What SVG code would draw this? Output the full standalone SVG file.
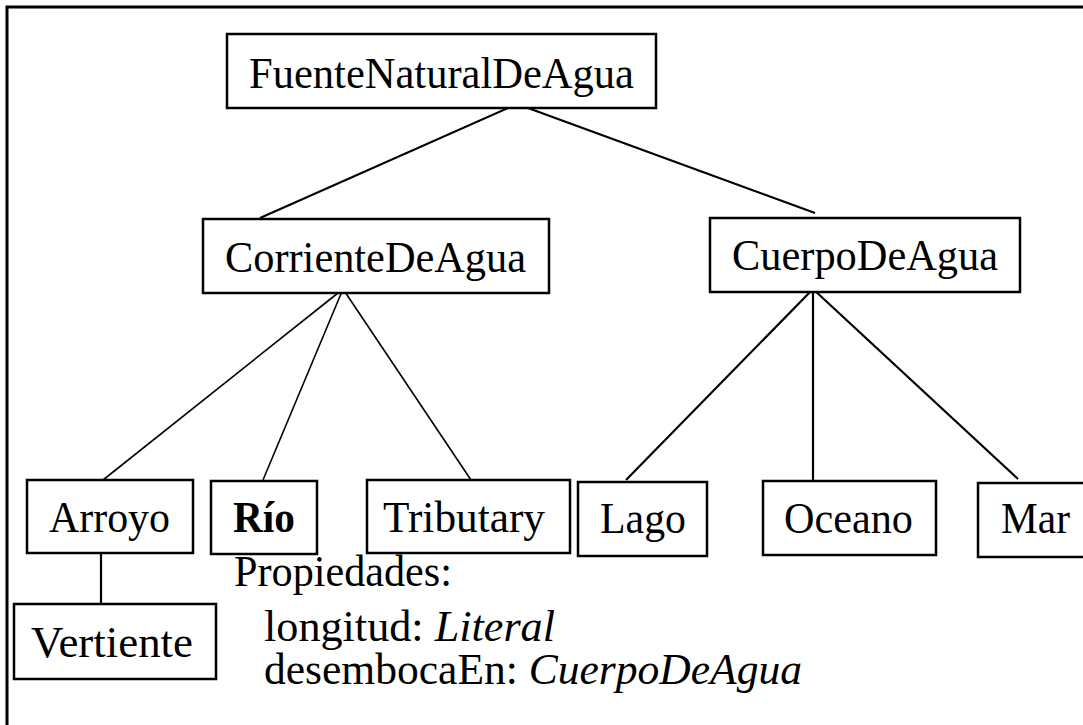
<svg xmlns="http://www.w3.org/2000/svg" width="1083" height="725" viewBox="0 0 1083 725">
<style>
.frame{fill:none;stroke:#000;stroke-width:3}
.box{fill:#fff;stroke:#000;stroke-width:2.5}
.lbl{font-family:"Liberation Serif","Times New Roman",serif;font-size:45px;fill:#000}
.b{font-weight:bold}
.it{font-style:italic}
.conn line{stroke:#000;stroke-width:2.2}
.conn line.thin{stroke-width:1.6}
</style>
<rect width="1083" height="725" fill="#fff"/>
<path class="frame" d="M7,725 V7 H1083"/>
<g id="connectors" class="conn">
<line x1="517" y1="104" x2="260" y2="218"/>
<line x1="517" y1="104" x2="815" y2="213"/>
<line class="thin" x1="343" y1="289" x2="103" y2="480"/>
<line class="thin" x1="343" y1="289" x2="263" y2="480"/>
<line class="thin" x1="343" y1="289" x2="471" y2="480"/>
<line x1="813" y1="289" x2="626" y2="480"/>
<line x1="813" y1="289" x2="813" y2="480"/>
<line x1="813" y1="289" x2="1018" y2="479"/>
<line x1="101" y1="550" x2="101" y2="604"/>
</g>
<g id="FuenteNaturalDeAgua">
<rect class="box" x="227" y="34" width="429" height="74"/>
<text class="lbl" x="249" y="88" textLength="385" lengthAdjust="spacingAndGlyphs">FuenteNaturalDeAgua</text>
</g>
<g id="CorrienteDeAgua">
<rect class="box" x="203" y="219" width="346" height="74"/>
<text class="lbl" x="225" y="272" textLength="301" lengthAdjust="spacingAndGlyphs">CorrienteDeAgua</text>
</g>
<g id="CuerpoDeAgua">
<rect class="box" x="710" y="218" width="310" height="74"/>
<text class="lbl" x="732" y="270" textLength="266" lengthAdjust="spacingAndGlyphs">CuerpoDeAgua</text>
</g>
<g id="Arroyo">
<rect class="box" x="27" y="480" width="166" height="73"/>
<text class="lbl" x="49" y="532" textLength="121" lengthAdjust="spacingAndGlyphs">Arroyo</text>
</g>
<g id="Rio">
<rect class="box" x="211" y="481" width="106" height="73"/>
<text class="lbl b" x="233" y="532" textLength="62" lengthAdjust="spacingAndGlyphs">Río</text>
</g>
<g id="Tributary">
<rect class="box" x="367" y="480" width="203" height="73"/>
<text class="lbl" x="383" y="532" textLength="162" lengthAdjust="spacingAndGlyphs">Tributary</text>
</g>
<g id="Lago">
<rect class="box" x="578" y="482" width="129" height="74"/>
<text class="lbl" x="600" y="533" textLength="86" lengthAdjust="spacingAndGlyphs">Lago</text>
</g>
<g id="Oceano">
<rect class="box" x="763" y="481" width="173" height="74"/>
<text class="lbl" x="784" y="533" textLength="129" lengthAdjust="spacingAndGlyphs">Oceano</text>
</g>
<g id="Mar">
<rect class="box" x="978" y="483" width="120" height="74"/>
<text class="lbl" x="1001" y="533" textLength="69" lengthAdjust="spacingAndGlyphs">Mar</text>
</g>
<g id="Vertiente">
<rect class="box" x="14" y="604" width="202" height="75"/>
<text class="lbl" x="31" y="657" textLength="162" lengthAdjust="spacingAndGlyphs">Vertiente</text>
</g>
<g id="Propiedades">
<text class="lbl" x="234" y="586" textLength="218" lengthAdjust="spacingAndGlyphs">Propiedades:</text>
<text class="lbl" x="264" y="641" textLength="291" lengthAdjust="spacingAndGlyphs">longitud: <tspan class="it">Literal</tspan></text>
<text class="lbl" x="264" y="684" textLength="538" lengthAdjust="spacingAndGlyphs">desembocaEn: <tspan class="it">CuerpoDeAgua</tspan></text>
</g>
</svg>
